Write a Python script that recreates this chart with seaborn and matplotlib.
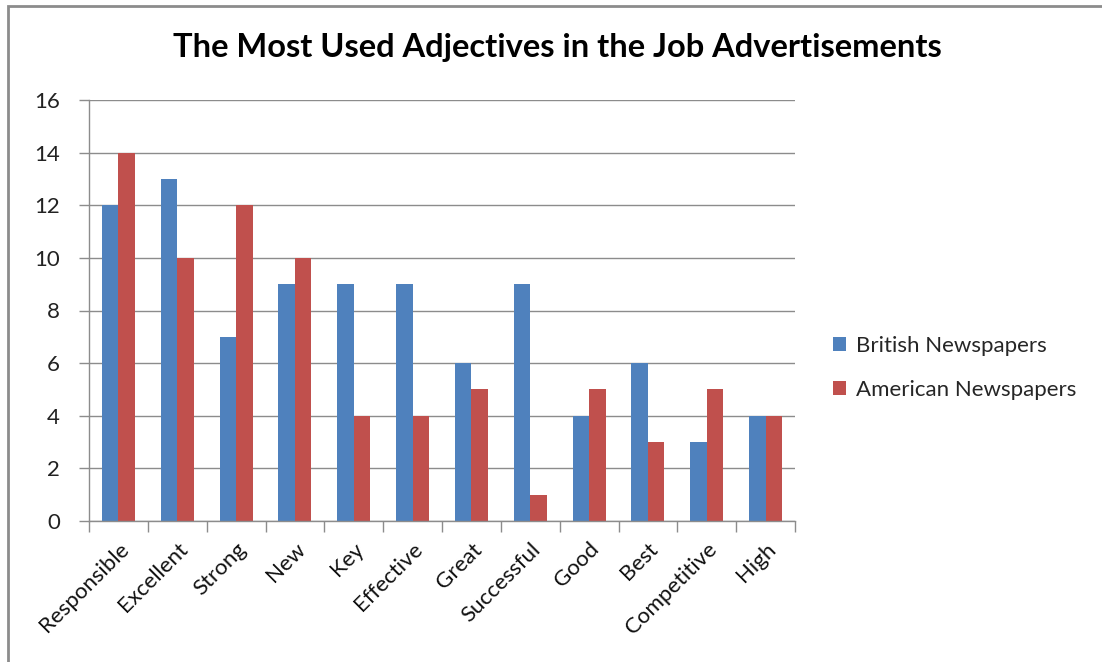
import matplotlib
matplotlib.use("Agg")
import matplotlib.pyplot as plt
import seaborn as sns
import pandas as pd
from matplotlib.patches import Rectangle
from matplotlib.ticker import FixedLocator

categories = ["Responsible", "Excellent", "Strong", "New", "Key", "Effective",
              "Great", "Successful", "Good", "Best", "Competitive", "High"]
british = [12, 13, 7, 9, 9, 9, 6, 9, 4, 6, 3, 4]
american = [14, 10, 12, 10, 4, 4, 5, 1, 5, 3, 5, 4]
series_names = ["British Newspapers", "American Newspapers"]
colors = ["#4F81BD", "#C0504D"]
y_ticks = [0, 2, 4, 6, 8, 10, 12, 14, 16]
title = "The Most Used Adjectives in the Job Advertisements"

df = pd.DataFrame({
    "Adjective": categories * 2,
    "Count": british + american,
    "Series": [series_names[0]] * len(categories) + [series_names[1]] * len(categories),
})

sns.set_theme(style="white")
plt.rcParams["font.family"] = ["Lato", "DejaVu Sans"]

fig = plt.figure(figsize=(11.02, 6.62), dpi=100)
ax = fig.add_axes([89 / 1102, 1 - 521 / 662, (795 - 89) / 1102, (521 - 100) / 662])

sns.barplot(data=df, x="Adjective", y="Count", hue="Series", order=categories,
            hue_order=series_names, palette=colors, width=0.56, gap=0,
            saturation=1, ax=ax, legend=True, linewidth=0)

ax.set_xlim(-0.5, len(categories) - 0.5)
ax.set_ylim(0, 16)
ax.set_yticks(y_ticks)
ax.set_yticklabels([str(v) for v in y_ticks], fontsize=16, color="#222222")
ax.set_xlabel("")
ax.set_ylabel("")
ax.yaxis.grid(True, color="#8C8C8C", linewidth=1)
ax.set_axisbelow(True)
for side in ["top", "right"]:
    ax.spines[side].set_visible(False)
for side in ["left", "bottom"]:
    ax.spines[side].set_color("#8C8C8C")
    ax.spines[side].set_linewidth(1)

ax.set_xticks(range(len(categories)))
ax.set_xticklabels(categories, rotation=45, ha="right", rotation_mode="anchor",
                   fontsize=16, color="#111111")
ax.tick_params(axis="x", which="major", length=0, pad=13)
ax.xaxis.set_minor_locator(FixedLocator([i - 0.5 for i in range(len(categories) + 1)]))
ax.tick_params(axis="x", which="minor", length=8, color="#8C8C8C", width=1, bottom=True)
ax.tick_params(axis="y", which="major", length=7, color="#8C8C8C", width=1, left=True, pad=14)

handles, labels = ax.get_legend_handles_labels()
ax.get_legend().remove()
fig.legend(handles, labels, loc="center left", bbox_to_anchor=(813 / 1102, 1 - 368 / 662),
           frameon=False, fontsize=16, handlelength=0.6, handleheight=0.6,
           labelspacing=1.1, handletextpad=0.45)

fig.suptitle(title, x=557 / 1102, y=1 - 47 / 662, va="center",
             fontsize=23.5, fontweight="bold", color="#000000")

fig.patches.append(Rectangle((8 / 1102, -0.1), 1.2, 1 - 6 / 662 + 0.1,
                             transform=fig.transFigure, fill=False,
                             edgecolor="#8C8C8C", linewidth=2))

fig.savefig("out.png", dpi=100, facecolor="white")
